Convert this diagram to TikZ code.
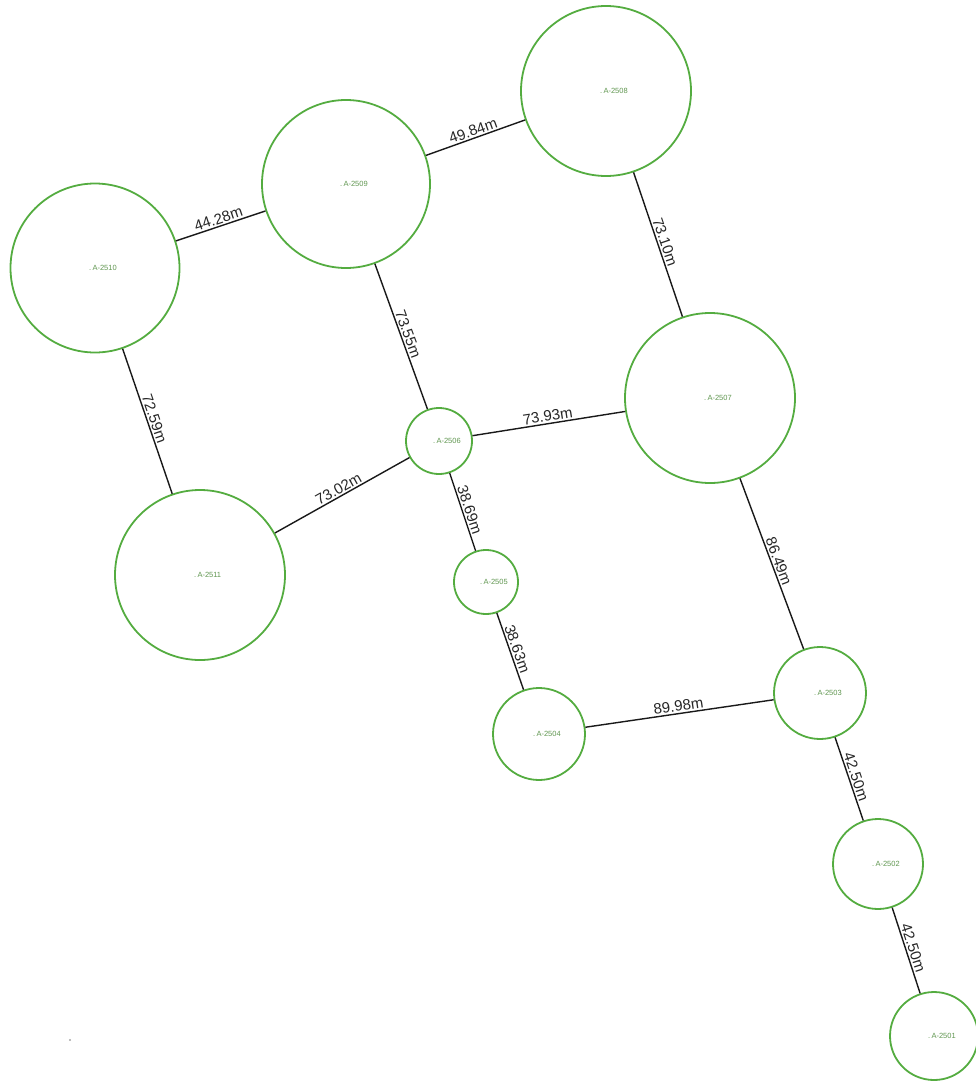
\documentclass[tikz,border=0pt]{standalone}
\usepackage{fontspec}
\setmainfont{Liberation Sans}
\usepackage{tikz}
\usetikzlibrary{positioning,calc}
\definecolor{siteg}{RGB}{84,172,64}
\definecolor{tagg}{RGB}{96,150,80}

\begin{document}
\begin{tikzpicture}[
  x=1pt, y=-1pt,
  site/.style={circle, draw=siteg, line width=1.8pt, minimum size=#1, inner sep=0pt},
  tag/.style={anchor=west, text=tagg, font=\fontsize{7.5}{8}\selectfont, inner sep=0pt, xshift=-6pt},
  dist/.style={midway, above, sloped, inner sep=1.5pt, text=black!85,
               font=\fontsize{15}{16}\selectfont},
  link/.style={line width=1.4pt, draw=black!90},
]
\useasboundingbox (0,0) rectangle (976,1081);

\node[site=170pt] (s2508) at (606,91)   {};
\node[site=168pt] (s2509) at (346,184)  {};
\node[site=169pt] (s2510) at (95,268)   {};
\node[site=170pt] (s2507) at (710,398)  {};
\node[site=66pt]  (s2506) at (439,441)  {};
\node[site=170pt] (s2511) at (200,575)  {};
\node[site=64pt]  (s2505) at (486,582)  {};
\node[site=92pt]  (s2504) at (539,734)  {};
\node[site=92pt]  (s2503) at (820,693)  {};
\node[site=90pt]  (s2502) at (878,864)  {};
\node[site=88pt]  (s2501) at (934,1036) {};

% labels of the sites
\node[tag] (t2508) at (s2508.center) {.\,A-2508};
\node[tag] (t2509) at (s2509.center) {.\,A-2509};
\node[tag] (t2510) at (s2510.center) {.\,A-2510};
\node[tag] (t2507) at (s2507.center) {.\,A-2507};
\node[tag] (t2506) at (s2506.center) {.\,A-2506};
\node[tag] (t2511) at (s2511.center) {.\,A-2511};
\node[tag] (t2505) at (s2505.center) {.\,A-2505};
\node[tag] (t2504) at (s2504.center) {.\,A-2504};
\node[tag] (t2503) at (s2503.center) {.\,A-2503};
\node[tag] (t2502) at (s2502.center) {.\,A-2502};
\node[tag] (t2501) at (s2501.center) {.\,A-2501};

\draw[link] (s2510) -- node[dist]{44.28m} (s2509);
\draw[link] (s2509) -- node[dist]{49.84m} (s2508);
\draw[link] (s2509) -- node[dist]{73.55m} (s2506);
\draw[link] (s2510) -- node[dist]{72.59m} (s2511);
\draw[link] (s2508) -- node[dist]{73.10m} (s2507);
\draw[link] (s2506) -- node[dist]{73.93m} (s2507);
\draw[link] (s2511) -- node[dist]{73.02m} (s2506);
\draw[link] (s2506) -- node[dist]{38.69m} (s2505);
\draw[link] (s2505) -- node[dist]{38.63m} (s2504);
\draw[link] (s2504) -- node[dist]{89.98m} (s2503);
\draw[link] (s2507) -- node[dist]{86.49m} (s2503);
\draw[link] (s2503) -- node[dist]{42.50m} (s2502);
\draw[link] (s2502) -- node[dist]{42.50m} (s2501);

\fill[black!35] (70,1040) circle (1.2pt);
\end{tikzpicture}
\end{document}
